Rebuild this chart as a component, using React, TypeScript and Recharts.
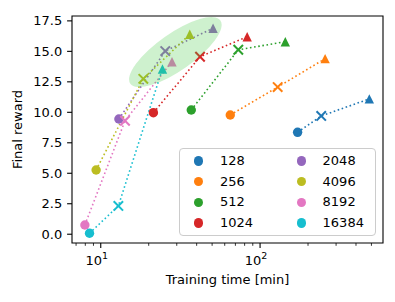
import React from 'react';
import { ComposedChart, Line, Scatter, XAxis, YAxis, ReferenceArea, Legend } from 'recharts';

// batch sizes and tab10 colours
const batchSizes = ['128', '256', '512', '1024', '2048', '4096', '8192', '16384'];
const colors = ['#1f77b4', '#ff7f0e', '#2ca02c', '#d62728', '#9467bd', '#bcbd22', '#e377c2', '#17becf'];

// training time [min] per run (circle, x, triangle)
const time128 = [172, 242, 485];
const time256 = [65, 129, 256];
const time512 = [37, 73, 144];
const time1024 = [21.4, 42, 83];
const time2048 = [13.0, 25.4, 50.7];
const time4096 = [9.35, 18.5, 36.2];
const time8192 = [7.95, 14.2, 28.0];
const time16384 = [8.5, 12.9, 24.4];

// final reward per run
const reward128 = [8.36, 9.7, 11.1];
const reward256 = [9.78, 12.07, 14.4];
const reward512 = [10.19, 15.13, 15.79];
const reward1024 = [9.97, 14.56, 16.2];
const reward2048 = [9.45, 15.02, 16.9];
const reward4096 = [5.27, 12.75, 16.4];
const reward8192 = [0.76, 9.31, 14.15];
const reward16384 = [0.08, 2.32, 13.55];

const xMajorTicks = [10, 100];
const xMinorTicks = [7, 8, 9, 20, 30, 40, 50, 60, 70, 80, 90, 200, 300, 400, 500];
const yTicks = [0, 2.5, 5, 7.5, 10, 12.5, 15, 17.5];

const xDomain = [6.6, 591];
const yDomain = [-0.72, 17.9];

// highlighted region centre
const highlightCenter = [{ x: 29.4, y: 14.94 }];

const times = [time128, time256, time512, time1024, time2048, time4096, time8192, time16384];
const rewards = [reward128, reward256, reward512, reward1024, reward2048, reward4096, reward8192, reward16384];

const series = batchSizes.map((name, i) => ({
  name,
  color: colors[i],
  data: times[i].map((x, j) => ({ x, y: rewards[i][j] })),
}));

const FONT = 'DejaVu Sans, sans-serif';

function Marker({ cx, cy, index, color }: any) {
  if (cx == null || cy == null) return null;
  const r = 4.7;
  if (index === 0) return <circle cx={cx} cy={cy} r={r} fill={color} />;
  if (index === 1)
    return (
      <g stroke={color} strokeWidth={2}>
        <line x1={cx - r} y1={cy - r} x2={cx + r} y2={cy + r} />
        <line x1={cx - r} y1={cy + r} x2={cx + r} y2={cy - r} />
      </g>
    );
  return <path d={`M${cx},${cy - r}L${cx - r},${cy + r}L${cx + r},${cy + r}Z`} fill={color} />;
}

function XTick({ x, y, payload }: any) {
  const major = xMajorTicks.includes(payload.value);
  const exp = Math.round(Math.log10(payload.value));
  return (
    <g>
      <line x1={x} y1={y} x2={x} y2={y + (major ? 4.9 : 2.8)} stroke="#000" strokeWidth={major ? 1.1 : 0.8} />
      {major && (
        <text x={x - 4} y={y + 22} textAnchor="middle" fontSize={13} fontFamily={FONT} fill="#000">
          10
          <tspan fontSize={9.5} dy={-6}>{exp}</tspan>
        </text>
      )}
    </g>
  );
}

function YTick({ x, y, payload }: any) {
  return (
    <g>
      <line x1={x - 4.9} y1={y} x2={x} y2={y} stroke="#000" strokeWidth={1.1} />
      <text x={x - 9.8} y={y} textAnchor="end" dominantBaseline="central" fontSize={13} fontFamily={FONT} fill="#000">
        {payload.value.toFixed(1)}
      </text>
    </g>
  );
}

function YLabel({ viewBox }: any) {
  const cy = viewBox ? viewBox.y + viewBox.height / 2 : 129.5;
  return (
    <text x={17.5} y={cy} transform={`rotate(-90 17.5 ${cy})`} textAnchor="middle" dominantBaseline="central" fontSize={13} fontFamily={FONT} fill="#000">
      Final reward
    </text>
  );
}

function XLabel({ viewBox }: any) {
  const cx = viewBox ? viewBox.x + viewBox.width / 2 : 227.5;
  const y = viewBox ? viewBox.y + 36 : 279;
  return (
    <text x={cx} y={y} textAnchor="middle" dominantBaseline="central" fontSize={13} fontFamily={FONT} fill="#000">
      Training time [min]
    </text>
  );
}

function LegendBox() {
  return (
    <div
      style={{
        position: 'relative',
        width: 197,
        height: 88,
        boxSizing: 'border-box',
        background: 'rgba(255,255,255,0.8)',
        border: '1px solid #cccccc',
        borderRadius: 4,
        fontFamily: FONT,
        fontSize: 13,
        color: '#000',
      }}
    >
      {series.map((s, i) => {
        const col = Math.floor(i / 4);
        const row = i % 4;
        return (
          <div
            key={s.name}
            style={{
              position: 'absolute',
              left: 14 + col * 102.7,
              top: 12.2 + row * 20.6 - 10,
              height: 20,
              display: 'flex',
              alignItems: 'center',
            }}
          >
            <span style={{ width: 9.4, height: 9.4, borderRadius: '50%', background: s.color, display: 'inline-block' }} />
            <span style={{ marginLeft: 16.5, lineHeight: '20px' }}>{s.name}</span>
          </div>
        );
      })}
    </div>
  );
}

export default function App() {
  return (
    <div style={{ position: 'fixed', left: 0, top: 0, width: 395, height: 302, background: '#fff' }}>
      <ComposedChart width={395} height={302} margin={{ top: 16, right: 12, bottom: 10, left: 0 }}>
        <XAxis
          type="number"
          dataKey="x"
          scale="log"
          domain={xDomain}
          allowDataOverflow
          ticks={[...xMajorTicks, ...xMinorTicks]}
          interval={0}
          tickLine={false}
          axisLine={false}
          tickSize={0}
          tickMargin={0}
          tick={<XTick />}
          height={49}
          label={<XLabel />}
        />
        <YAxis
          type="number"
          dataKey="y"
          domain={yDomain}
          allowDataOverflow
          ticks={yTicks}
          interval={0}
          tickLine={false}
          axisLine={false}
          tickSize={0}
          tickMargin={0}
          tick={<YTick />}
          width={72}
          label={<YLabel />}
        />
        {series.map((s) => (
          <Line
            key={s.name}
            data={s.data}
            dataKey="y"
            name={s.name}
            type="linear"
            stroke={s.color}
            strokeWidth={1.6}
            strokeDasharray="1.6 2.6"
            dot={(p: any) => <Marker key={`${s.name}-${p.index}`} {...p} color={s.color} />}
            activeDot={false}
            isAnimationActive={false}
          />
        ))}
        {/* shaded region is drawn over the markers */}
        <Scatter
          data={highlightCenter}
          dataKey="y"
          isAnimationActive={false}
          zIndex={2500}
          shape={(p: any) => (
            <ellipse
              cx={p.cx}
              cy={p.cy}
              rx={55}
              ry={18.5}
              transform={`rotate(-35 ${p.cx} ${p.cy})`}
              fill="#3cc83c"
              fillOpacity={0.25}
            />
          )}
        />
        <ReferenceArea x1={xDomain[0]} x2={xDomain[1]} y1={yDomain[0]} y2={yDomain[1]} fill="none" stroke="#000" strokeWidth={1.1} />
        <Legend
          layout="vertical"
          align="center"
          verticalAlign="middle"
          wrapperStyle={{ left: 179, top: 148, width: 197, height: 88 }}
          content={() => <LegendBox />}
        />
      </ComposedChart>
    </div>
  );
}
